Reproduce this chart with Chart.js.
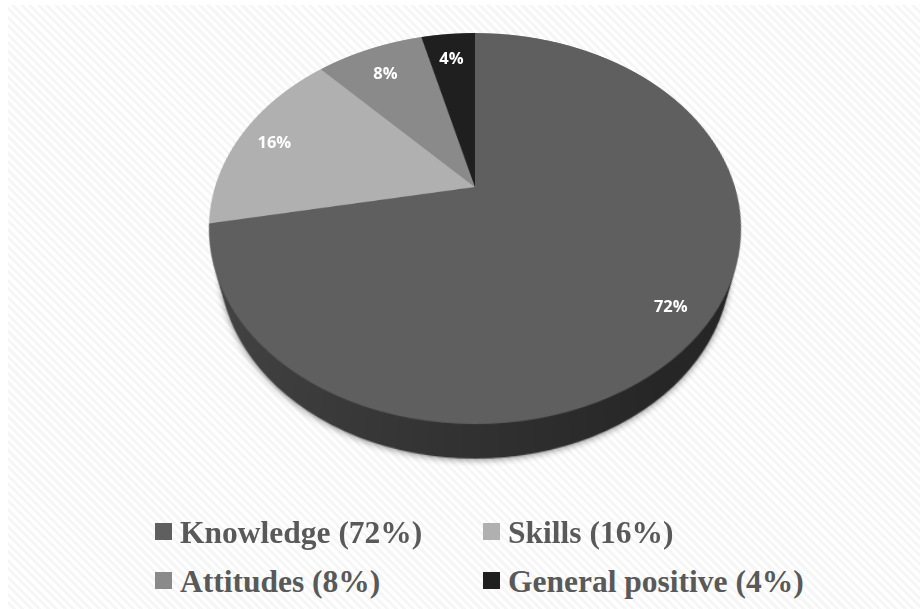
<!DOCTYPE html>
<html>
<head>
<meta charset="utf-8">
<title>Pie</title>
<script src="https://cdn.jsdelivr.net/npm/chart.js@4"></script>
<style>
  html, body { margin: 0; width: 920px; height: 609px; overflow: hidden; background: #fff; }
  #hatch {
    position: absolute; left: 8px; top: 5px; width: 912px; height: 604px;
    background: repeating-linear-gradient(45deg, #fff 0 3px, #f6f6f6 3px 6px);
  }
  /* the canvas is tilted so the pie gets the perspective of the original */
  #pie {
    position: absolute; left: 124.5px; top: -163px;
    transform-origin: 350px 350px;
    transform: perspective(852px) rotateX(44.1deg);
  }
  .pct {
    position: absolute; transform: translate(-50%, -50%);
    font: bold 16.5px "Open Sans", sans-serif; color: #fff;
  }
  .key {
    position: absolute; height: 34px; white-space: nowrap;
    font: bold 31.5px/34px "Liberation Serif", serif; color: #595959;
  }
  .key i { position: absolute; left: -25px; top: 8px; width: 17px; height: 17px; }
</style>
</head>
<body>
<div id="hatch"></div>
<canvas id="pie" width="700" height="700" style="width:700px;height:700px"></canvas>
<div id="labels"></div>
<script>
  const categories = ["Knowledge", "Skills", "Attitudes", "General positive"];
  const values = [72, 16, 8, 4];
  const colors = ["#5f5f5f", "#b0b0b0", "#8a8a8a", "#1f1f1f"];

  // same numbers as the css transform, needed to place the html labels
  const PERSP = 852, TILT = 44.1 * Math.PI / 180;
  const APEX_X = 474.5, APEX_Y = 188;
  const labelRadius = [0.865, 0.855, 0.82, 0.83];
  const legendPos = [[180, 516], [508, 516], [180, 565], [508, 565]];

  const $ = (id) => document.getElementById(id);

  function project(x, y) {
    const s = PERSP / (PERSP - y * Math.sin(TILT));
    return [APEX_X + x * s, APEX_Y + y * Math.cos(TILT) * s];
  }

  // side wall of the pie: shrinking copies of the arcs pushed down the canvas
  const rimPlugin = {
    id: "rim",
    beforeDatasetsDraw(chart) {
      const ctx = chart.ctx;
      const arcs = chart.getDatasetMeta(0).data;
      const { x, y, outerRadius } = arcs[0];
      const DROP = 49, SHRINK = 20, STEPS = 70;
      const grad = ctx.createLinearGradient(x - outerRadius, 0, x + outerRadius, 0);
      grad.addColorStop(0, "#464646");
      grad.addColorStop(0.45, "#333333");
      grad.addColorStop(0.8, "#262626");
      grad.addColorStop(1, "#262626");
      for (let i = STEPS; i >= 1; i--) {
        const t = i / STEPS;
        ctx.save();
        if (i === STEPS) {
          ctx.shadowColor = "rgba(0,0,0,0.45)";
          ctx.shadowBlur = 12;
          ctx.shadowOffsetY = 2;
        }
        ctx.fillStyle = grad;
        ctx.beginPath();
        ctx.arc(x, y + DROP * t, outerRadius - SHRINK * t, 0, Math.PI * 2);
        ctx.fill();
        ctx.restore();
      }
    },
  };

  const chart = new Chart($("pie"), {
    type: "pie",
    data: {
      labels: categories,
      datasets: [{ data: values, backgroundColor: colors, borderWidth: 0 }],
    },
    options: {
      responsive: false,
      devicePixelRatio: 2,
      animation: false,
      layout: { padding: 90 },
      plugins: { legend: { display: false }, tooltip: { enabled: false } },
    },
    plugins: [rimPlugin],
  });

  // percent labels sit on the tilted arcs, but stay flat themselves
  const arcs = chart.getDatasetMeta(0).data;
  arcs.forEach((arc, i) => {
    const mid = (arc.startAngle + arc.endAngle) / 2;
    const r = arc.outerRadius * labelRadius[i];
    const [px, py] = project(r * Math.cos(mid), r * Math.sin(mid));
    const el = document.createElement("div");
    el.className = "pct";
    el.textContent = values[i] + "%";
    el.style.left = px + "px";
    el.style.top = py + "px";
    $("labels").appendChild(el);
  });

  categories.forEach((name, i) => {
    const el = document.createElement("div");
    el.className = "key";
    el.style.left = legendPos[i][0] + "px";
    el.style.top = legendPos[i][1] + "px";
    el.innerHTML = `<i style="background:${colors[i]};top:7px"></i>${name} (${values[i]}%)`;
    $("labels").appendChild(el);
  });
</script>
</body>
</html>
